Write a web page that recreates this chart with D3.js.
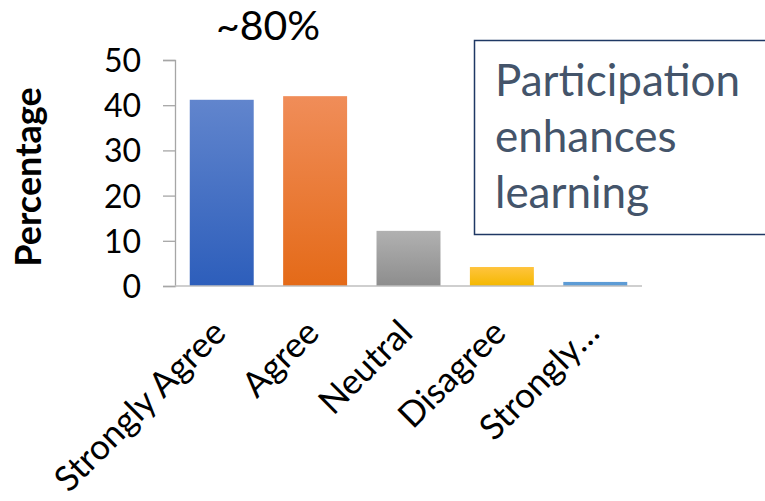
<!DOCTYPE html>
<html>
<head>
<meta charset="utf-8">
<script src="https://cdn.jsdelivr.net/npm/d3@7"></script>
<style>
  body { margin: 0; background: #fff; }
  svg { display: block; font-family: Lato, "Open Sans", sans-serif; }
</style>
</head>
<body>
<svg id="chart" width="765" height="501"></svg>
<script>
var categories = ["Strongly Agree", "Agree", "Neutral", "Disagree", "Strongly…"];
var values = [41.2, 42.0, 12.2, 4.2, 0.9];
var yTicks = [0, 10, 20, 30, 40, 50];
var gradTops = ["#6185CD", "#F08D59", "#B1B1B1", "#FFC43E", "#5E9CD6"];
var gradBottoms = ["#2D5EBB", "#E46A18", "#8D8D8D", "#F4B800", "#5B9BD5"];

var svg = d3.select("#chart");

var x = d3.scaleBand()
    .domain(categories)
    .range([175, 642])
    .paddingInner(0.315)
    .paddingOuter(0.158);

var y = d3.scaleLinear()
    .domain([0, 50])
    .range([286, 60]);

var defs = svg.append("defs");
categories.forEach(function (c, i) {
    var g = defs.append("linearGradient")
        .attr("id", "grad" + i)
        .attr("x1", 0).attr("y1", 0)
        .attr("x2", 0).attr("y2", 1);
    g.append("stop").attr("offset", "0%").attr("stop-color", gradTops[i]);
    g.append("stop").attr("offset", "100%").attr("stop-color", gradBottoms[i]);
});

// y axis
var yAxis = svg.append("g")
    .attr("transform", "translate(175,0)")
    .call(d3.axisLeft(y).tickValues(yTicks).tickSize(12).tickPadding(22));
yAxis.select(".domain").attr("stroke", "#A6A6A6").attr("stroke-width", 1.3);
yAxis.selectAll(".tick line").attr("stroke", "#A6A6A6").attr("stroke-width", 1.3);
yAxis.selectAll(".tick text")
    .attr("fill", "#000")
    .style("font-size", "32px")
    .style("font-family", "Lato, sans-serif")
    .attr("dy", "0.36em");

// bars
svg.selectAll(".bar")
    .data(values)
    .enter()
    .append("rect")
    .classed("bar", true)
    .attr("x", (d, i) => x(categories[i]))
    .attr("width", x.bandwidth())
    .attr("y", d => y(d))
    .attr("height", d => y(0) - y(d))
    .attr("fill", (d, i) => "url(#grad" + i + ")");

// x axis line
svg.append("line")
    .attr("x1", 175).attr("x2", 642)
    .attr("y1", y(0)).attr("y2", y(0))
    .attr("stroke", "#BFBFBF")
    .attr("stroke-width", 1.5);

// category labels
svg.selectAll(".xlabel")
    .data(categories)
    .enter()
    .append("text")
    .classed("xlabel", true)
    .attr("transform", d => "translate(" + (x(d) + x.bandwidth() / 2 + 6) + ",335) rotate(-45)")
    .attr("text-anchor", "end")
    .attr("fill", "#000")
    .style("font-size", "35px")
    .text(d => d);

// y axis title
svg.append("text")
    .attr("transform", "translate(41,177) rotate(-90)")
    .attr("text-anchor", "middle")
    .style("font-size", "36px")
    .style("font-weight", "bold")
    .text("Percentage");

// ~80% title
svg.append("text")
    .attr("x", 268)
    .attr("y", 40)
    .attr("text-anchor", "middle")
    .style("font-size", "41px")
    .text("~80%");

// annotation box
svg.append("rect")
    .attr("x", 474.5).attr("y", 40.5)
    .attr("width", 320).attr("height", 194)
    .attr("fill", "#fff")
    .attr("stroke", "#1F3864")
    .attr("stroke-width", 1.5);

var boxLines = ["Participation", "enhances", "learning"];
svg.selectAll(".boxline")
    .data(boxLines)
    .enter()
    .append("text")
    .classed("boxline", true)
    .attr("x", 495)
    .attr("y", (d, i) => 96 + i * 56)
    .attr("fill", "#44546A")
    .style("font-size", "44px")
    .text(d => d);
</script>
</body>
</html>
